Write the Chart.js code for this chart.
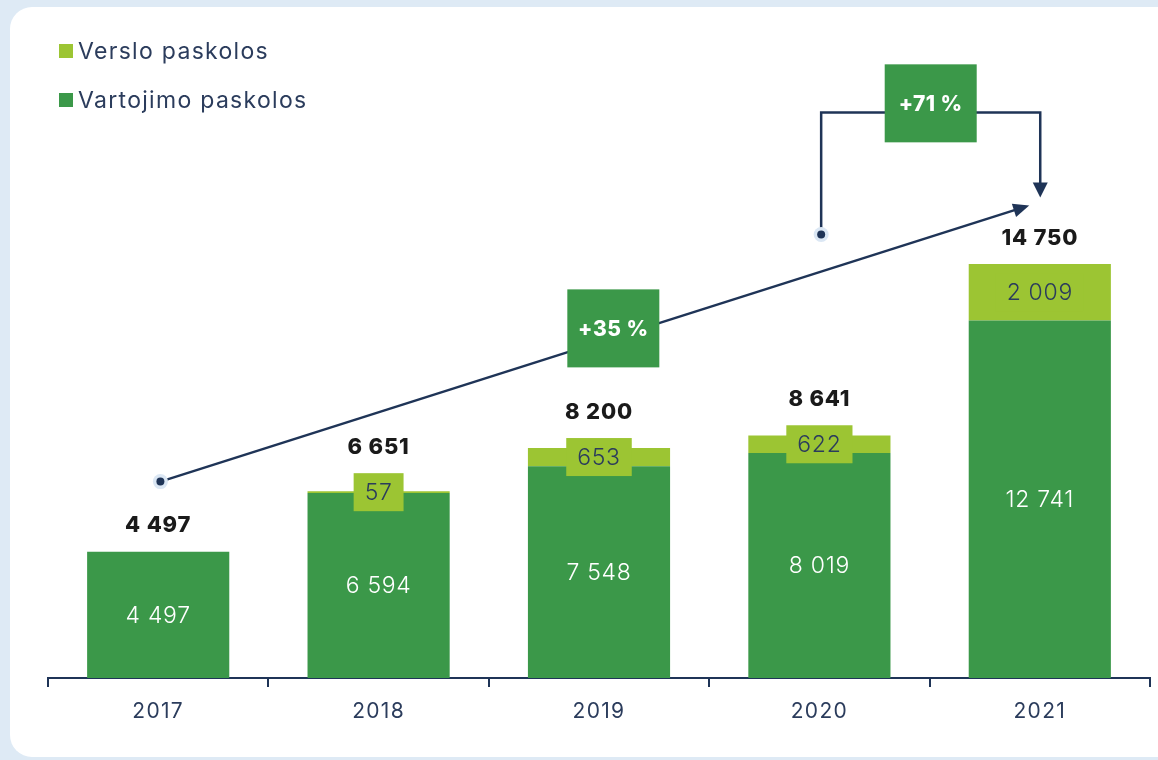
<!DOCTYPE html>
<html>
<head>
<meta charset="utf-8">
<script src="https://cdn.jsdelivr.net/npm/chart.js@4/dist/chart.umd.min.js"></script>
<style>
  html, body { margin: 0; padding: 0; }
  body { width: 1158px; height: 760px; background: #deeaf5; position: relative; overflow: hidden; }
  #card { position: absolute; left: 10px; top: 7px; width: 1180px; height: 750px; background: #ffffff; border-radius: 22px; }
  #c { position: absolute; left: 0; top: 0; }
</style>
</head>
<body>
<div id="card"></div>
<canvas id="c" width="1158" height="760"></canvas>
<script>
// ---- data ----
const years = ['2017', '2018', '2019', '2020', '2021'];
const vartojimo = [4497, 6594, 7548, 8019, 12741];
const verslo = [null, 57, 653, 622, 2009];
const totals = [4497, 6651, 8200, 8641, 14750];
const seriesNames = ['Vartojimo paskolos', 'Verslo paskolos'];
// annotation anchors in data space: [category index, value]
const trendFrom = [0.01, 7000];
const trendTo = [3.952, 16840];
const trendLabel = '+35 %';
const trendLabelAt = [2.065, 12460];
const jumpFrom = [3.008, 15806];
const jumpTopValue = 20150;
const jumpTo = [4.002, 17124];
const jumpLabel = '+71 %';
const jumpLabelAt = [3.505, 20480];

// ---- styles ----
const DARK = '#3b9849';
const LIGHT = '#9cc533';
const NAVY = '#1f3457';
const TEXT = '#2b3c5c';
const FONT = 'Inter, "Open Sans", sans-serif';

const fmt = v => String(v).replace(/\B(?=(\d{3})+(?!\d))/g, ' ');

function arrowHead(ctx, x1, y1, x2, y2, len, half) {
  const a = Math.atan2(y2 - y1, x2 - x1);
  ctx.beginPath();
  ctx.moveTo(x2, y2);
  ctx.lineTo(x2 - len * Math.cos(a) + half * Math.sin(a), y2 - len * Math.sin(a) - half * Math.cos(a));
  ctx.lineTo(x2 - len * Math.cos(a) - half * Math.sin(a), y2 - len * Math.sin(a) + half * Math.cos(a));
  ctx.closePath();
  ctx.fill();
}
function dot(ctx, x, y) {
  ctx.fillStyle = '#dbe7f4';
  ctx.beginPath(); ctx.arc(x, y, 7.5, 0, Math.PI * 2); ctx.fill();
  ctx.fillStyle = NAVY;
  ctx.beginPath(); ctx.arc(x, y, 4, 0, Math.PI * 2); ctx.fill();
}
function badge(ctx, cx, cy, text) {
  const w = 92, h = 78;
  ctx.fillStyle = DARK;
  ctx.fillRect(cx - w / 2, cy - h / 2, w, h);
  ctx.fillStyle = '#ffffff';
  ctx.font = '800 21px ' + FONT;
  ctx.letterSpacing = '0.5px';
  ctx.textAlign = 'center';
  ctx.textBaseline = 'middle';
  ctx.fillText(text, cx, cy + 1);
}

const spacingPlugin = {
  id: 'spacingPlugin',
  beforeDraw(chart) { chart.ctx.letterSpacing = '1.3px'; }
};

const labelsPlugin = {
  id: 'labelsPlugin',
  afterDatasetsDraw(chart) {
    const ctx = chart.ctx;
    const xs = chart.scales.x, ys = chart.scales.y;
    const P = (p) => [xs.getPixelForValue(p[0]), ys.getPixelForValue(p[1])];
    const m0 = chart.getDatasetMeta(0), m1 = chart.getDatasetMeta(1);
    ctx.save();
    ctx.textAlign = 'center';
    ctx.textBaseline = 'middle';
    years.forEach((y, i) => {
      const b0 = m0.data[i], b1 = m1.data[i];
      // vartojimo label
      ctx.fillStyle = '#ffffff';
      ctx.font = '300 23px ' + FONT;
      ctx.letterSpacing = '0.7px';
      ctx.fillText(fmt(vartojimo[i]), b0.x, (b0.y + b0.base) / 2 + 1);
      let topY = b0.y;
      // verslo label with box
      if (verslo[i] !== null) {
        const cy = (b1.y + b1.base) / 2;
        const tw = ctx.measureText(fmt(verslo[i])).width;
        const bw = tw + 22, bh = 38;
        ctx.fillStyle = LIGHT;
        ctx.fillRect(b1.x - bw / 2, cy - bh / 2, bw, bh);
        ctx.fillStyle = TEXT;
        ctx.fillText(fmt(verslo[i]), b1.x, cy + 1);
        topY = Math.min(b1.y, cy - bh / 2);
      }
      // total
      ctx.fillStyle = '#1a1a1a';
      ctx.font = '800 22px ' + FONT;
      ctx.letterSpacing = '0.8px';
      ctx.fillText(fmt(totals[i]), b0.x, topY - 26);
    });

    // trend arrow
    ctx.strokeStyle = NAVY;
    ctx.fillStyle = NAVY;
    ctx.lineWidth = 2.5;
    const [ax, ay] = P(trendFrom), [bx, by] = P(trendTo);
    const ang = Math.atan2(by - ay, bx - ax);
    ctx.beginPath(); ctx.moveTo(ax, ay); ctx.lineTo(bx - 8 * Math.cos(ang), by - 8 * Math.sin(ang)); ctx.stroke();
    arrowHead(ctx, ax, ay, bx, by, 16, 7);
    dot(ctx, ax, ay);
    const [lx, ly] = P(trendLabelAt);
    badge(ctx, lx, ly, trendLabel);

    // jump elbow arrow
    ctx.strokeStyle = NAVY;
    ctx.fillStyle = NAVY;
    ctx.lineWidth = 2.5;
    const [jx, jy] = P(jumpFrom), [kx, ky] = P(jumpTo);
    const topPx = ys.getPixelForValue(jumpTopValue);
    ctx.beginPath();
    ctx.moveTo(jx, jy); ctx.lineTo(jx, topPx); ctx.lineTo(kx, topPx); ctx.lineTo(kx, ky - 10);
    ctx.stroke();
    arrowHead(ctx, kx, topPx, kx, ky, 15, 7.5);
    dot(ctx, jx, jy);
    const [mx, my] = P(jumpLabelAt);
    badge(ctx, mx, my, jumpLabel);

    // legend
    const items = [[chart.data.datasets[1].label, chart.data.datasets[1].backgroundColor],
                   [chart.data.datasets[0].label, chart.data.datasets[0].backgroundColor]];
    ctx.textAlign = 'left';
    items.forEach((it, k) => {
      const cy = 51 + k * 49;
      ctx.fillStyle = it[1];
      ctx.fillRect(59, cy - 7, 14, 14);
      ctx.fillStyle = TEXT;
      ctx.font = '400 23px ' + FONT;
      ctx.letterSpacing = '1.3px';
      ctx.fillText(it[0], 78, cy + 1);
    });
    ctx.restore();
    ctx.letterSpacing = '0px';
  }
};

new Chart(document.getElementById('c'), {
  type: 'bar',
  data: {
    labels: years,
    datasets: [
      { label: seriesNames[0], data: vartojimo, backgroundColor: DARK, borderWidth: 0 },
      { label: seriesNames[1], data: verslo, backgroundColor: LIGHT, borderWidth: 0 }
    ]
  },
  options: {
    responsive: false,
    devicePixelRatio: 1,
    animation: false,
    barPercentage: 0.645,
    categoryPercentage: 1,
    layout: { padding: { left: 48, right: 8, top: 20, bottom: 0 } },
    plugins: { legend: { display: false }, tooltip: { enabled: false } },
    scales: {
      x: {
        stacked: true,
        offset: true,
        grid: { display: true, offset: true, drawOnChartArea: false, drawTicks: true, tickLength: 9, color: NAVY, lineWidth: 2 },
        border: { display: true, color: NAVY, width: 2 },
        ticks: { padding: 12, color: TEXT, font: { family: FONT, size: 21, weight: '400' } },
        afterFit: (s) => { s.height = 82; }
      },
      y: {
        stacked: true,
        display: false,
        min: 0,
        max: 23450
      }
    }
  },
  plugins: [spacingPlugin, labelsPlugin]
});
</script>
</body>
</html>
